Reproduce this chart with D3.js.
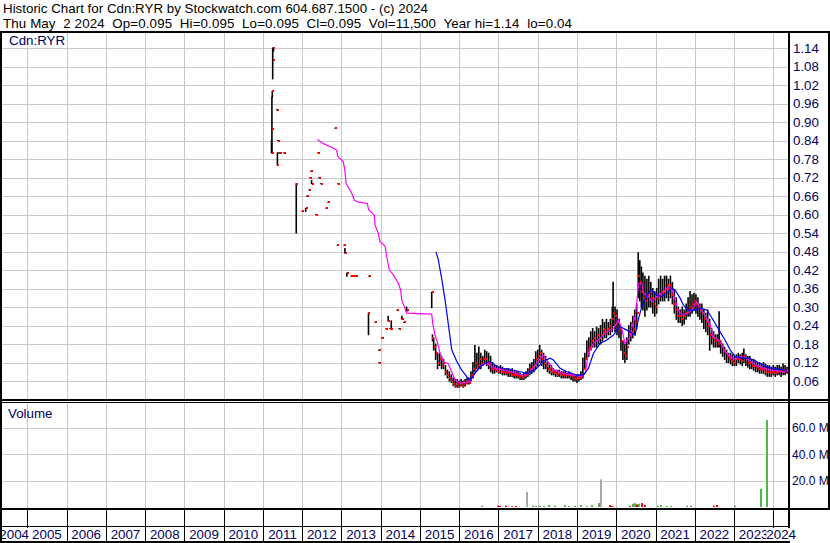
<!DOCTYPE html>
<html><head><meta charset="utf-8">
<script src="https://cdn.jsdelivr.net/npm/d3@7"></script>
<style>
body{margin:0;background:#fff}
svg{display:block}
text{font-family:"Liberation Sans",Arial,sans-serif;font-size:13.33px}
</style>
</head><body><svg id="c" width="830" height="543"></svg>
<script>
// ---------- data ----------
const headerLines = [
  "Historic Chart for Cdn:RYR by Stockwatch.com 604.687.1500 - (c) 2024",
  "Thu May  2 2024  Op=0.095  Hi=0.095  Lo=0.095  Cl=0.095  Vol=11,500  Year hi=1.14  lo=0.04"
];
const headerWidths = [425, 569];
const symbolLabel = "Cdn:RYR";
const volumeLabel = "Volume";
const yTickValues = [0.06,0.12,0.18,0.24,0.30,0.36,0.42,0.48,0.54,0.60,0.66,0.72,0.78,0.84,0.90,0.96,1.02,1.08,1.14];
const volTickValues = [20,40,60];
const years = [2004,2005,2006,2007,2008,2009,2010,2011,2012,2013,2014,2015,2016,2017,2018,2019,2020,2021,2022,2023,2024];

// sparse trading 2011-2015: [decimal year, high, low, close]
const earlyBars = [
[2011.22,0.84,0.80,0.80],[2011.23,0.98,0.80,0.877],[2011.24,1.00,0.98,1.00],[2011.25,1.14,1.04,1.10],
[2011.27,1.14,1.13,1.14],[2011.35,0.94,0.94,0.94],[2011.37,0.80,0.76,0.76],[2011.38,0.84,0.84,0.84],
[2011.40,0.80,0.80,0.80],[2011.44,0.80,0.80,0.80],[2011.53,0.80,0.80,0.80],[2011.85,0.70,0.54,0.70],
[2012.00,0.61,0.61,0.61],[2012.09,0.62,0.61,0.62],[2012.12,0.66,0.66,0.66],[2012.18,0.68,0.68,0.68],
[2012.20,0.72,0.72,0.72],[2012.22,0.74,0.74,0.74],[2012.24,0.71,0.70,0.70],[2012.35,0.60,0.60,0.60],
[2012.40,0.80,0.80,0.80],[2012.43,0.72,0.72,0.72],[2012.47,0.70,0.70,0.70],[2012.61,0.62,0.62,0.62],
[2012.66,0.64,0.64,0.64],[2012.84,0.88,0.88,0.88],[2012.90,0.50,0.50,0.50],[2012.91,0.70,0.70,0.70],
[2013.07,0.50,0.50,0.50],[2013.09,0.49,0.475,0.475],[2013.14,0.41,0.40,0.41],[2013.25,0.40,0.40,0.40],
[2013.29,0.40,0.40,0.40],[2013.33,0.40,0.40,0.40],[2013.36,0.40,0.40,0.40],[2013.69,0.28,0.21,0.28],
[2013.70,0.40,0.40,0.40],[2013.86,0.25,0.25,0.25],[2013.95,0.16,0.16,0.16],[2013.96,0.12,0.12,0.12],
[2014.03,0.20,0.20,0.20],[2014.14,0.23,0.23,0.23],[2014.19,0.27,0.255,0.255],[2014.24,0.23,0.23,0.23],
[2014.27,0.255,0.23,0.23],[2014.42,0.29,0.29,0.29],[2014.47,0.23,0.23,0.23],[2014.54,0.27,0.26,0.26],
[2014.59,0.25,0.25,0.25],[2014.66,0.30,0.285,0.29],[2015.30,0.348,0.298,0.348]
];

// regular trading 2015-2024: [decimal year, high, low, close]
const recentBars = [
[2015.32,0.21,0.19,0.20],[2015.35,0.20,0.16,0.17],[2015.40,0.18,0.13,0.15],[2015.45,0.15,0.10,0.12],
[2015.50,0.15,0.11,0.13],[2015.55,0.14,0.10,0.11],[2015.60,0.13,0.10,0.12],[2015.65,0.11,0.08,0.09],
[2015.70,0.095,0.07,0.08],[2015.75,0.09,0.06,0.07],[2015.80,0.08,0.055,0.06],[2015.85,0.07,0.045,0.05],
[2015.90,0.065,0.04,0.045],[2015.95,0.065,0.04,0.05],[2016.00,0.06,0.04,0.045],[2016.05,0.065,0.045,0.05],
[2016.10,0.06,0.04,0.045],[2016.15,0.065,0.045,0.055],[2016.20,0.07,0.05,0.06],[2016.25,0.07,0.05,0.055],
[2016.30,0.09,0.06,0.08],[2016.35,0.12,0.07,0.10],[2016.40,0.175,0.09,0.12],[2016.45,0.15,0.10,0.11],
[2016.50,0.17,0.10,0.13],[2016.55,0.15,0.10,0.12],[2016.60,0.14,0.11,0.13],[2016.65,0.16,0.12,0.13],
[2016.70,0.155,0.11,0.12],[2016.75,0.15,0.10,0.12],[2016.80,0.14,0.09,0.10],[2016.85,0.12,0.085,0.10],
[2016.90,0.11,0.085,0.095],[2016.95,0.11,0.09,0.10],[2017.00,0.105,0.085,0.09],[2017.05,0.11,0.085,0.10],
[2017.10,0.105,0.08,0.09],[2017.15,0.10,0.08,0.09],[2017.20,0.10,0.08,0.085],[2017.25,0.10,0.075,0.09],
[2017.30,0.095,0.075,0.085],[2017.35,0.10,0.075,0.08],[2017.40,0.09,0.07,0.08],[2017.45,0.09,0.07,0.08],
[2017.50,0.09,0.07,0.075],[2017.55,0.085,0.065,0.075],[2017.60,0.08,0.065,0.07],[2017.65,0.085,0.065,0.075],
[2017.70,0.09,0.07,0.08],[2017.75,0.10,0.075,0.085],[2017.80,0.115,0.08,0.10],[2017.85,0.12,0.085,0.105],
[2017.90,0.13,0.09,0.11],[2017.95,0.155,0.10,0.13],[2018.00,0.16,0.11,0.14],[2018.05,0.175,0.12,0.15],
[2018.10,0.16,0.11,0.13],[2018.15,0.15,0.10,0.12],[2018.20,0.14,0.10,0.11],[2018.25,0.12,0.09,0.10],
[2018.30,0.115,0.085,0.095],[2018.35,0.11,0.08,0.09],[2018.40,0.10,0.08,0.09],[2018.45,0.095,0.075,0.085],
[2018.50,0.095,0.075,0.08],[2018.55,0.095,0.075,0.085],[2018.60,0.09,0.07,0.08],[2018.65,0.09,0.07,0.08],
[2018.70,0.09,0.07,0.075],[2018.75,0.085,0.07,0.08],[2018.80,0.09,0.07,0.08],[2018.85,0.085,0.065,0.075],
[2018.90,0.08,0.06,0.07],[2018.95,0.08,0.06,0.065],[2019.00,0.08,0.055,0.07],[2019.05,0.08,0.06,0.07],
[2019.10,0.09,0.065,0.08],[2019.15,0.135,0.07,0.10],[2019.20,0.15,0.10,0.13],[2019.25,0.19,0.13,0.16],
[2019.30,0.20,0.14,0.17],[2019.35,0.22,0.16,0.19],[2019.40,0.23,0.17,0.20],[2019.45,0.22,0.17,0.19],
[2019.50,0.235,0.17,0.21],[2019.55,0.23,0.18,0.20],[2019.60,0.24,0.18,0.21],[2019.65,0.26,0.19,0.22],
[2019.70,0.25,0.20,0.23],[2019.75,0.26,0.20,0.22],[2019.80,0.25,0.21,0.23],[2019.85,0.26,0.21,0.24],
[2019.90,0.30,0.22,0.26],[2019.92,0.38,0.24,0.28],[2019.97,0.30,0.22,0.27],[2020.02,0.29,0.21,0.25],
[2020.07,0.26,0.20,0.23],[2020.12,0.23,0.16,0.19],[2020.17,0.19,0.13,0.15],[2020.22,0.18,0.12,0.14],
[2020.27,0.20,0.13,0.17],[2020.32,0.24,0.18,0.21],[2020.37,0.25,0.19,0.22],[2020.42,0.27,0.20,0.23],
[2020.47,0.29,0.21,0.25],[2020.52,0.31,0.23,0.28],[2020.56,0.476,0.33,0.40],[2020.60,0.45,0.32,0.38],
[2020.64,0.43,0.30,0.35],[2020.68,0.41,0.29,0.33],[2020.73,0.40,0.27,0.32],[2020.78,0.39,0.29,0.34],
[2020.83,0.40,0.30,0.35],[2020.88,0.38,0.30,0.33],[2020.93,0.36,0.28,0.31],[2020.98,0.35,0.27,0.30],
[2021.03,0.36,0.28,0.33],[2021.08,0.39,0.31,0.34],[2021.13,0.40,0.32,0.35],[2021.18,0.39,0.32,0.35],
[2021.23,0.40,0.32,0.36],[2021.28,0.40,0.33,0.37],[2021.33,0.39,0.32,0.36],[2021.38,0.40,0.33,0.37],
[2021.43,0.38,0.31,0.34],[2021.48,0.355,0.28,0.31],[2021.53,0.33,0.26,0.29],[2021.58,0.30,0.25,0.27],
[2021.63,0.29,0.25,0.27],[2021.68,0.30,0.24,0.26],[2021.73,0.29,0.245,0.27],[2021.78,0.31,0.26,0.28],
[2021.83,0.33,0.27,0.29],[2021.88,0.35,0.27,0.30],[2021.93,0.34,0.28,0.31],[2021.98,0.345,0.29,0.32],
[2022.03,0.34,0.28,0.31],[2022.08,0.33,0.27,0.30],[2022.13,0.31,0.26,0.29],[2022.18,0.31,0.25,0.28],
[2022.23,0.29,0.23,0.26],[2022.28,0.28,0.22,0.25],[2022.33,0.29,0.21,0.24],[2022.38,0.26,0.16,0.21],
[2022.43,0.23,0.18,0.20],[2022.48,0.22,0.17,0.19],[2022.53,0.21,0.17,0.19],[2022.58,0.21,0.17,0.18],
[2022.62,0.285,0.17,0.19],[2022.66,0.19,0.15,0.17],[2022.71,0.18,0.14,0.16],[2022.76,0.17,0.13,0.15],
[2022.81,0.16,0.12,0.14],[2022.86,0.15,0.12,0.13],[2022.91,0.15,0.115,0.13],[2022.96,0.145,0.11,0.125],
[2023.01,0.14,0.11,0.12],[2023.06,0.145,0.11,0.13],[2023.11,0.15,0.12,0.13],[2023.16,0.145,0.115,0.13],
[2023.21,0.15,0.11,0.125],[2023.25,0.164,0.12,0.14],[2023.30,0.145,0.11,0.13],[2023.35,0.14,0.105,0.12],
[2023.40,0.14,0.10,0.12],[2023.45,0.13,0.10,0.11],[2023.50,0.13,0.095,0.11],[2023.55,0.125,0.09,0.105],
[2023.60,0.12,0.09,0.10],[2023.65,0.12,0.085,0.10],[2023.70,0.115,0.085,0.10],[2023.75,0.12,0.085,0.095],
[2023.80,0.115,0.08,0.09],[2023.85,0.11,0.075,0.09],[2023.90,0.11,0.075,0.085],[2023.95,0.105,0.075,0.09],
[2024.00,0.11,0.08,0.09],[2024.05,0.105,0.075,0.085],[2024.10,0.11,0.08,0.09],[2024.15,0.11,0.08,0.095],
[2024.20,0.105,0.075,0.09],[2024.25,0.115,0.08,0.09],[2024.30,0.11,0.08,0.095],[2024.35,0.105,0.085,0.095]
];

// short moving average (magenta): [decimal year, value]
const maShort = [
[2012.386,0.843],[2012.557,0.829],[2012.794,0.815],[2012.881,0.809],[2012.906,0.788],[2013.049,0.771],
[2013.092,0.739],[2013.118,0.701],[2013.263,0.669],[2013.329,0.647],[2013.431,0.640],[2013.660,0.636],
[2013.696,0.615],[2013.839,0.598],[2013.856,0.566],[2013.940,0.539],[2013.984,0.512],[2014.111,0.498],
[2014.154,0.463],[2014.221,0.420],[2014.323,0.404],[2014.450,0.377],[2014.511,0.354],[2014.536,0.323],
[2014.620,0.296],[2014.664,0.280],[2015.300,0.277],[2015.326,0.247],[2015.384,0.209],[2015.443,0.187],
[2015.512,0.150],[2015.596,0.123],[2015.72,0.116],[2015.81,0.090],[2015.894,0.063],[2016.02,0.054],
[2016.27,0.057],[2016.40,0.085],[2016.53,0.106],[2016.66,0.117],[2016.78,0.112],[2016.91,0.101],
[2017.17,0.094],[2017.47,0.085],[2017.63,0.076],[2017.80,0.090],[2017.97,0.117],[2018.13,0.144],
[2018.23,0.128],[2018.40,0.096],[2018.65,0.085],[2018.91,0.079],[2019.12,0.074],[2019.21,0.085],
[2019.29,0.150],[2019.42,0.182],[2019.59,0.199],[2019.76,0.220],[2019.93,0.231],[2020.06,0.258],
[2020.15,0.225],[2020.22,0.182],[2020.27,0.190],[2020.35,0.204],[2020.40,0.236],[2020.48,0.268],
[2020.53,0.323],[2020.57,0.377],[2020.65,0.377],[2020.69,0.345],[2020.82,0.334],[2020.91,0.317],
[2020.99,0.328],[2021.08,0.339],[2021.20,0.350],[2021.33,0.366],[2021.42,0.355],[2021.50,0.323],
[2021.58,0.290],[2021.67,0.274],[2021.80,0.279],[2021.92,0.290],[2022.05,0.317],[2022.13,0.296],
[2022.26,0.274],[2022.39,0.242],[2022.47,0.204],[2022.60,0.193],[2022.69,0.177],[2022.77,0.155],
[2022.90,0.139],[2023.03,0.130],[2023.15,0.139],[2023.28,0.137],[2023.40,0.126],[2023.58,0.112],
[2023.75,0.101],[2023.92,0.096],[2024.09,0.093],[2024.26,0.090],[2024.38,0.092]
];

// long moving average (blue): [decimal year, value]
const maLong = [
[2015.41,0.479],[2015.47,0.452],[2015.56,0.387],[2015.64,0.323],[2015.72,0.247],[2015.81,0.161],
[2015.94,0.123],[2016.06,0.096],[2016.19,0.074],[2016.28,0.063],[2016.40,0.085],[2016.53,0.106],
[2016.66,0.117],[2016.78,0.123],[2016.91,0.112],[2017.04,0.103],[2017.30,0.098],[2017.55,0.090],
[2017.72,0.085],[2017.93,0.096],[2018.14,0.123],[2018.31,0.134],[2018.40,0.128],[2018.57,0.101],
[2018.74,0.090],[2018.99,0.079],[2019.16,0.079],[2019.29,0.101],[2019.42,0.150],[2019.59,0.182],
[2019.76,0.193],[2019.93,0.209],[2020.10,0.236],[2020.27,0.225],[2020.48,0.209],[2020.56,0.258],
[2020.65,0.301],[2020.78,0.339],[2020.90,0.355],[2021.03,0.339],[2021.16,0.334],[2021.29,0.345],
[2021.41,0.361],[2021.50,0.355],[2021.63,0.328],[2021.71,0.306],[2021.84,0.290],[2021.96,0.288],
[2022.13,0.296],[2022.31,0.290],[2022.39,0.274],[2022.52,0.247],[2022.64,0.220],[2022.77,0.193],
[2022.90,0.161],[2023.03,0.139],[2023.20,0.134],[2023.37,0.134],[2023.49,0.128],[2023.66,0.117],
[2023.83,0.106],[2024.00,0.101],[2024.17,0.098],[2024.34,0.093]
];

// volume in millions: [decimal year, volume, direction u=up d=down n=unchanged]
const volumeBars = [
[2016.58,1.0,"u"],[2016.99,1.0,"d"],[2017.05,0.8,"d"],[2017.20,1.0,"d"],[2017.35,0.6,"d"],[2017.45,0.8,"d"],
[2017.72,11.5,"n"],[2017.88,1.0,"u"],[2017.95,0.8,"u"],[2018.05,1.0,"u"],[2018.15,0.8,"u"],[2018.30,1.5,"u"],
[2018.43,1.0,"u"],[2018.70,1.5,"u"],[2018.80,0.8,"u"],[2018.95,1.0,"u"],[2019.10,1.5,"u"],[2019.25,0.8,"u"],
[2019.38,1.5,"u"],[2019.56,3.0,"u"],[2019.61,21.0,"n"],[2019.85,1.5,"d"],[2019.90,0.8,"d"],[2020.35,0.8,"d"],
[2020.42,2.5,"u"],[2020.48,3.0,"u"],[2020.52,2.0,"d"],[2020.58,2.5,"u"],[2020.65,3.0,"d"],[2020.72,1.5,"d"],
[2021.06,1.0,"u"],[2021.15,1.5,"u"],[2021.28,0.8,"u"],[2021.40,0.8,"u"],[2021.80,1.0,"u"],[2021.90,1.0,"u"],
[2022.49,1.0,"d"],[2022.57,1.5,"d"],[2023.03,1.0,"u"],[2023.69,13.8,"u"],[2023.84,66.0,"u"]
];

// ---------- drawing ----------
const svg = d3.select("#c");
const X0 = 1, X1 = 789, MT = 33, MB = 400, VT = 403, VB = 508;
const navy = "#000060";
const x = d3.scaleLinear().domain([2004.33, 2024.40]).range([X0, X1]);
const y = d3.scaleLinear().domain([0, 1.192]).range([399.5, 32]);
const yv = d3.scaleLinear().domain([0, 60]).range([507, 428]);
const volColor = {u: "#4cb84c", d: "#ff0000", n: "#a8a8a8"};
const pxl = v => Math.round(v) + 0.5;

svg.append("rect").attr("width", 830).attr("height", 543).attr("fill", "#fff");

// header (letter spacing tuned so each line spans the width seen in the reference)
svg.append("g").selectAll("text").data(headerLines).join("text")
  .attr("x", 3).attr("y", (d, i) => 13 + i * 15)
  .attr("fill", "#000").style("white-space", "pre")
  .text(d => d)
  .each(function(d, i) {
    const len = this.getComputedTextLength();
    const ls = (headerWidths[i] - len) / Math.max(1, d.length - 1);
    d3.select(this).style("letter-spacing", ls.toFixed(3) + "px");
  });

// grids
const grid = svg.append("g").attr("stroke", "#c8c8c8").attr("stroke-width", 1).attr("shape-rendering", "crispEdges");
const yearLines = years.filter(yr => x(yr) > X0 && x(yr) < X1);
grid.selectAll("line.vm").data(yearLines).join("line")
  .attr("x1", d => pxl(x(d))).attr("x2", d => pxl(x(d))).attr("y1", MT).attr("y2", MB);
grid.selectAll("line.vv").data(yearLines).join("line")
  .attr("x1", d => pxl(x(d))).attr("x2", d => pxl(x(d))).attr("y1", VT).attr("y2", VB);
grid.selectAll("line.hm").data(yTickValues).join("line")
  .attr("x1", 2).attr("x2", X1).attr("y1", d => pxl(y(d))).attr("y2", d => pxl(y(d)));
grid.selectAll("line.hv").data(volTickValues).join("line")
  .attr("x1", 2).attr("x2", X1).attr("y1", d => pxl(yv(d))).attr("y2", d => pxl(yv(d)));

// symbol label with opaque background
svg.append("rect").attr("x", 2).attr("y", MT).attr("width", 63).attr("height", 14).attr("fill", "#fff");
svg.append("text").attr("x", 9).attr("y", 45).attr("fill", navy).text(symbolLabel);
svg.append("text").attr("x", 8).attr("y", 418).attr("fill", navy).text(volumeLabel);

// price panel
svg.append("clipPath").attr("id", "cp").append("rect").attr("x", 2).attr("y", MT).attr("width", X1 - 2).attr("height", MB - MT);
const pg = svg.append("g").attr("clip-path", "url(#cp)");
const allBars = earlyBars.concat(recentBars);
pg.append("g").selectAll("line").data(allBars).join("line")
  .attr("x1", d => x(d[0])).attr("x2", d => x(d[0]))
  .attr("y1", d => y(d[1]) - 0.5).attr("y2", d => y(d[2]) + 0.5)
  .attr("stroke", "#000").attr("stroke-width", 1.6);
pg.append("g").selectAll("rect").data(allBars).join("rect")
  .attr("x", d => Math.round(x(d[0]))).attr("y", d => Math.round(y(d[3])) - 1)
  .attr("width", 2).attr("height", 2).attr("fill", "#ff0000");
const line = d3.line().x(d => x(d[0])).y(d => y(d[1]));
pg.append("path").datum(maShort).attr("d", line).attr("fill", "none").attr("stroke", "#ff00ff").attr("stroke-width", 1.2);
pg.append("path").datum(maLong).attr("d", line).attr("fill", "none").attr("stroke", "#0000ff").attr("stroke-width", 1.2);

// volume panel
const vg = svg.append("g");
vg.selectAll("rect").data(volumeBars).join("rect")
  .attr("x", d => Math.round(x(d[0])) - 1).attr("width", 2)
  .attr("y", d => yv(d[1])).attr("height", d => yv(0) - yv(d[1]))
  .attr("fill", d => volColor[d[2]]);

// right axes
const ya = svg.append("g").attr("transform", "translate(793,0)")
  .call(d3.axisRight(y).tickValues(yTickValues).tickSize(0).tickPadding(0).tickFormat(d3.format(".2f")));
const va = svg.append("g").attr("transform", "translate(792,0)")
  .call(d3.axisRight(yv).tickValues(volTickValues).tickSize(0).tickPadding(0).tickFormat(d => d3.format(".1f")(d) + " M"));
[ya, va].forEach(a => {
  a.attr("font-size", null).attr("font-family", null);
  a.select(".domain").remove();
  a.selectAll("text").attr("fill", navy)
    .style("font-family", '"Liberation Sans",Arial,sans-serif').style("font-size", "13.33px");
});
va.selectAll("text").style("font-size", "12px");

// frame
const fr = svg.append("g").attr("fill", "#000").attr("shape-rendering", "crispEdges");
fr.append("rect").attr("x", 0).attr("y", 31).attr("width", 830).attr("height", 2);
fr.append("rect").attr("x", 0).attr("y", 31).attr("width", 2).attr("height", 512);
fr.append("rect").attr("x", 788).attr("y", 31).attr("width", 2).attr("height", 512);
fr.append("rect").attr("x", 828).attr("y", 31).attr("width", 2).attr("height", 479);
fr.append("rect").attr("x", 0).attr("y", 399).attr("width", 830).attr("height", 2);
fr.append("rect").attr("x", 0).attr("y", 402).attr("width", 830).attr("height", 1);
fr.append("rect").attr("x", 0).attr("y", VB).attr("width", 830).attr("height", 2);
fr.append("rect").attr("x", 0).attr("y", 526).attr("width", 789).attr("height", 1);
fr.append("rect").attr("x", 0).attr("y", 541).attr("width", 789).attr("height", 2);

// date axis: separators and year labels
const xa = svg.append("g");
xa.selectAll("line").data(yearLines).join("line")
  .attr("x1", d => pxl(x(d))).attr("x2", d => pxl(x(d))).attr("y1", VB + 2).attr("y2", 541)
  .attr("stroke", "#000").attr("shape-rendering", "crispEdges");
years.forEach(yr => {
  const a = Math.max(x(yr), X0), b = Math.min(x(yr + 1), X1);
  const cx = (a + b) / 2;
  const t = xa.append("text").attr("x", cx).attr("y", 539).attr("text-anchor", "middle").attr("fill", navy).text(yr);
  const bb = t.node().getBBox();
  xa.insert("rect", () => t.node()).attr("x", bb.x).attr("y", 528).attr("width", bb.width).attr("height", 13).attr("fill", "#fff");
});
svg.append("rect").attr("x", 0).attr("y", 527).attr("width", 2).attr("height", 16).attr("fill", "#000");
</script>
</body></html>
